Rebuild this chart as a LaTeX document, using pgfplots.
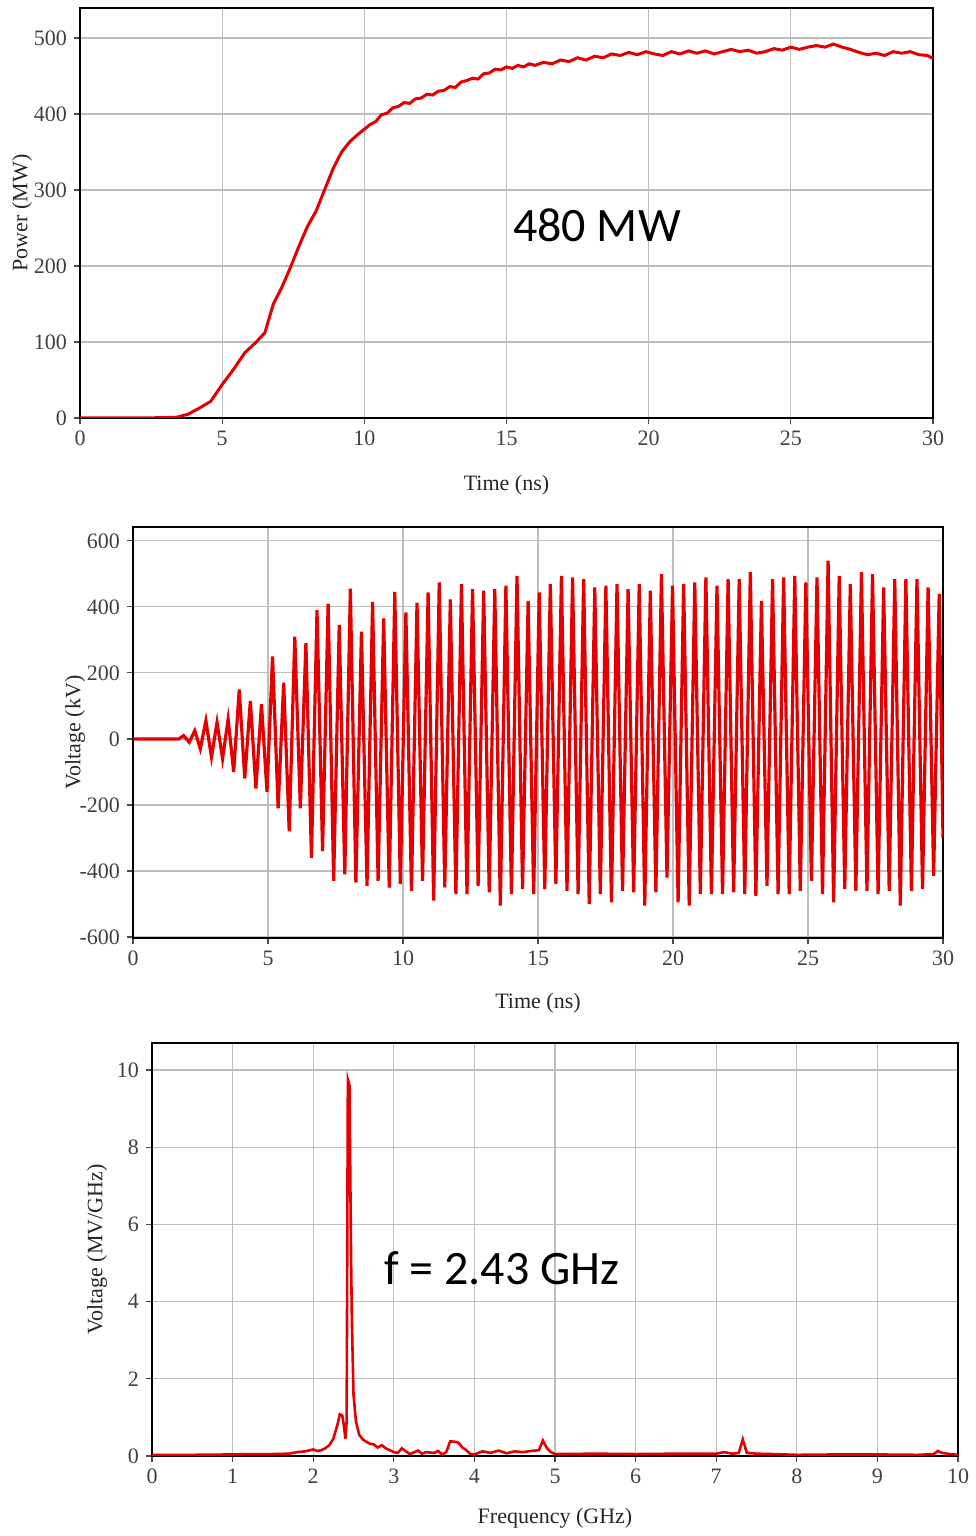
\documentclass[border=0pt]{standalone}
\usepackage{fontspec}
\setmainfont{Liberation Serif}
\newfontfamily\tnr{Liberation Serif}
\newfontfamily\calibri{Carlito}
\usepackage{pgfplots}
\pgfplotsset{compat=1.18}
\definecolor{wave}{RGB}{228,0,0}
\definecolor{gridc}{RGB}{190,190,190}
\pgfplotsset{
 panel/.style={scale only axis,
  axis line style={black,line width=1.4pt},
  grid=major, major grid style={gridc,line width=0.6pt},
  tick pos=left, tick align=outside, major tick length=3pt,
  tick style={black!70,line width=0.6pt},
  tick label style={font=\tnr\fontsize{11}{13}\selectfont, text=black!75},
  label style={font=\tnr\fontsize{11}{13}\selectfont, text=black!85},
  clip=true}
}
\begin{document}
\begin{tikzpicture}
\useasboundingbox (0,0) rectangle (487.5pt,768pt);

% ---------------- Panel 1: Power ----------------
\begin{axis}[panel, at={(40pt,764pt)}, anchor=north west,
  width=426.5pt, height=205pt,
  xmin=0, xmax=30, ymin=0, ymax=539.5,
  xtick={0,5,10,15,20,25,30}, xticklabels={0,5,10,15,20,25,30},
  ytick={0,100,200,300,400,500}, yticklabels={0,100,200,300,400,500},
  xlabel={Time (ns)}, ylabel={Power (MW)},
  xlabel style={at={(axis description cs:0.5,0)}, yshift=-33.5pt, anchor=center},
  ylabel style={at={(axis description cs:-0.068,0.5)}, anchor=center}]
\addplot[wave, line width=1.5pt] coordinates {
(0,0) (1,0) (2,0) (3,0.5) (3.4,1) (3.8,5) (4.2,13) (4.6,22) (5.0,44) (5.4,64)
(5.8,86) (6.2,100) (6.5,112) (6.8,150) (7.1,172) (7.4,198) (7.7,226) (8.0,252)
(8.3,272) (8.6,300) (8.9,328) (9.2,350) (9.5,364)
(9.8,374) (10.0,380) (10.2,386) (10.4,390) (10.6,399) (10.8,401) (11.0,408)
(11.2,410) (11.4,415) (11.6,414) (11.8,420) (12.0,421) (12.2,426) (12.4,425)
(12.6,430) (12.8,431) (13.0,436) (13.2,435) (13.4,442) (13.6,444) (13.8,447)
(14.0,446) (14.2,453) (14.4,454) (14.6,459) (14.8,458) (15.0,462) (15.2,460)
(15.4,464) (15.6,462) (15.8,466) (16.0,464) (16.3,468) (16.6,466) (16.9,471)
(17.2,469) (17.5,474) (17.8,471) (18.1,476) (18.4,474) (18.7,479) (19.0,477)
(19.3,481) (19.6,478) (19.9,482) (20.2,479) (20.5,477) (20.8,482) (21.1,479)
(21.4,483) (21.7,480) (22.0,483) (22.3,479) (22.6,482) (22.9,485) (23.2,482)
(23.5,484) (23.8,480) (24.1,482) (24.4,486) (24.7,484) (25.0,488) (25.3,485)
(25.6,488) (25.9,490) (26.2,488) (26.5,492) (26.8,488) (27.1,485) (27.4,481)
(27.7,478) (28.0,480) (28.3,477) (28.6,482) (28.9,480) (29.2,482) (29.5,478)
(29.8,477) (30,473)
};
\node[font=\calibri\fontsize{24}{28}\selectfont] at (axis cs:18.18,254) {480 MW};
\end{axis}

% ---------------- Panel 2: Voltage ----------------
\begin{axis}[panel, at={(66.5pt,504.5pt)}, anchor=north west,
  width=405pt, height=205.5pt,
  xmin=0, xmax=30, ymin=-603, ymax=642,
  xtick={0,5,10,15,20,25,30}, xticklabels={0,5,10,15,20,25,30},
  ytick={-600,-400,-200,0,200,400,600}, yticklabels={-600,-400,-200,0,200,400,600},
  xlabel={Time (ns)}, ylabel={Voltage (kV)},
  xlabel style={at={(axis description cs:0.5,0)}, yshift=-32.5pt, anchor=center},
  ylabel style={at={(axis description cs:-0.0716,0.5)}, anchor=center}]
\addplot[wave, line width=1.6pt] coordinates {
(0,0) (1.7,0)
(1.877,10) (2.083,-10) (2.289,25) (2.494,-30) (2.700,55) (2.906,-55)
(3.112,50) (3.317,-60) (3.523,60) (3.729,-100) (3.935,150) (4.140,-120)
(4.346,115) (4.552,-150) (4.758,105) (4.963,-160) (5.169,250) (5.375,-210)
(5.581,170) (5.786,-280) (5.992,310) (6.198,-210) (6.404,290) (6.609,-360)
(6.815,390) (7.021,-340) (7.227,410) (7.432,-430) (7.638,345) (7.844,-410)
(8.050,455) (8.255,-435) (8.461,325) (8.667,-445) (8.873,415) (9.078,-430)
(9.284,365) (9.490,-450) (9.696,445) (9.901,-440)
(10.107,383) (10.313,-460) (10.519,413) (10.724,-430) (10.930,444) (11.136,-490)
(11.342,474) (11.547,-450) (11.753,423) (11.959,-470) (12.165,469) (12.370,-470)
(12.576,454) (12.782,-445) (12.988,449) (13.193,-465) (13.399,454) (13.605,-505)
(13.811,464) (14.016,-470) (14.222,494) (14.428,-455) (14.634,418) (14.839,-470)
(15.045,444) (15.251,-455) (15.457,469) (15.662,-440) (15.868,494) (16.074,-460)
(16.280,489) (16.485,-470) (16.691,484) (16.897,-500) (17.103,459) (17.308,-470)
(17.514,464) (17.720,-495) (17.926,469) (18.131,-460) (18.337,454) (18.543,-465)
(18.749,469) (18.954,-505) (19.160,449) (19.366,-465) (19.572,499) (19.777,-420)
(19.983,464) (20.189,-495) (20.395,469) (20.600,-505) (20.806,474) (21.012,-470)
(21.218,489) (21.423,-470) (21.629,464) (21.835,-470) (22.041,484) (22.246,-465)
(22.452,484) (22.658,-470) (22.864,505) (23.069,-475) (23.275,418) (23.481,-445)
(23.687,484) (23.892,-470) (24.098,489) (24.304,-470) (24.510,494) (24.715,-460)
(24.921,474) (25.127,-430) (25.333,489) (25.538,-470) (25.744,540) (25.950,-495)
(26.156,494) (26.361,-455) (26.567,469) (26.773,-460) (26.979,505) (27.184,-460)
(27.390,499) (27.596,-470) (27.802,459) (28.007,-460) (28.213,484) (28.419,-505)
(28.625,484) (28.830,-460) (29.036,484) (29.242,-455) (29.448,459) (29.653,-415)
(29.859,439) (30.000,-300)
};
\end{axis}

% ---------------- Panel 3: Spectrum ----------------
\begin{axis}[panel, at={(76pt,246.5pt)}, anchor=north west,
  width=403pt, height=206.5pt,
  xmin=0, xmax=10, ymin=0, ymax=10.7,
  xtick={0,1,2,3,4,5,6,7,8,9,10}, xticklabels={0,1,2,3,4,5,6,7,8,9,10},
  ytick={0,2,4,6,8,10}, yticklabels={0,2,4,6,8,10},
  xlabel={Frequency (GHz)}, ylabel={Voltage (MV/GHz)},
  xlabel style={at={(axis description cs:0.5,0)}, yshift=-31pt, anchor=center},
  ylabel style={at={(axis description cs:-0.068,0.5)}, anchor=center}]
\addplot[wave, line width=1.3pt] coordinates {
(0,0.03) (0.5,0.03) (1.0,0.04) (1.2,0.05) (1.5,0.05) (1.7,0.06) (1.8,0.1)
(1.9,0.12) (2.0,0.17) (2.05,0.13) (2.1,0.15) (2.15,0.2) (2.2,0.28) (2.25,0.45)
(2.3,0.8) (2.33,1.08) (2.36,1.05) (2.38,0.8) (2.4,0.45) (2.415,0.9) (2.43,9.75)
(2.45,9.6) (2.46,7.3) (2.47,5.1) (2.48,3.5) (2.5,1.6) (2.53,0.9) (2.57,0.55)
(2.62,0.42) (2.7,0.32) (2.75,0.3) (2.8,0.22) (2.85,0.28) (2.9,0.2) (2.95,0.15)
(3.0,0.1) (3.05,0.08) (3.1,0.2) (3.15,0.12) (3.2,0.05) (3.3,0.14) (3.35,0.06)
(3.4,0.1) (3.5,0.08) (3.55,0.13) (3.6,0.04) (3.65,0.1) (3.7,0.38) (3.75,0.37)
(3.8,0.35) (3.85,0.22) (3.9,0.15) (3.95,0.05) (4.0,0.04) (4.1,0.12) (4.2,0.08)
(4.3,0.14) (4.4,0.07) (4.5,0.12) (4.6,0.1) (4.7,0.13) (4.8,0.15) (4.85,0.4)
(4.9,0.2) (4.95,0.1) (5.0,0.05) (5.5,0.06) (6,0.05) (6.5,0.06) (7.0,0.06)
(7.1,0.1) (7.2,0.06) (7.28,0.08) (7.33,0.43) (7.38,0.08) (7.5,0.06) (7.7,0.05)
(8,0.03) (8.5,0.04) (9,0.04) (9.5,0.03) (9.7,0.05) (9.75,0.13) (9.8,0.08)
(9.9,0.05) (10,0.03)
};
\node[font=\calibri\fontsize{24}{28}\selectfont] at (axis cs:4.34,4.87) {f = 2.43 GHz};
\end{axis}
\end{tikzpicture}
\end{document}
